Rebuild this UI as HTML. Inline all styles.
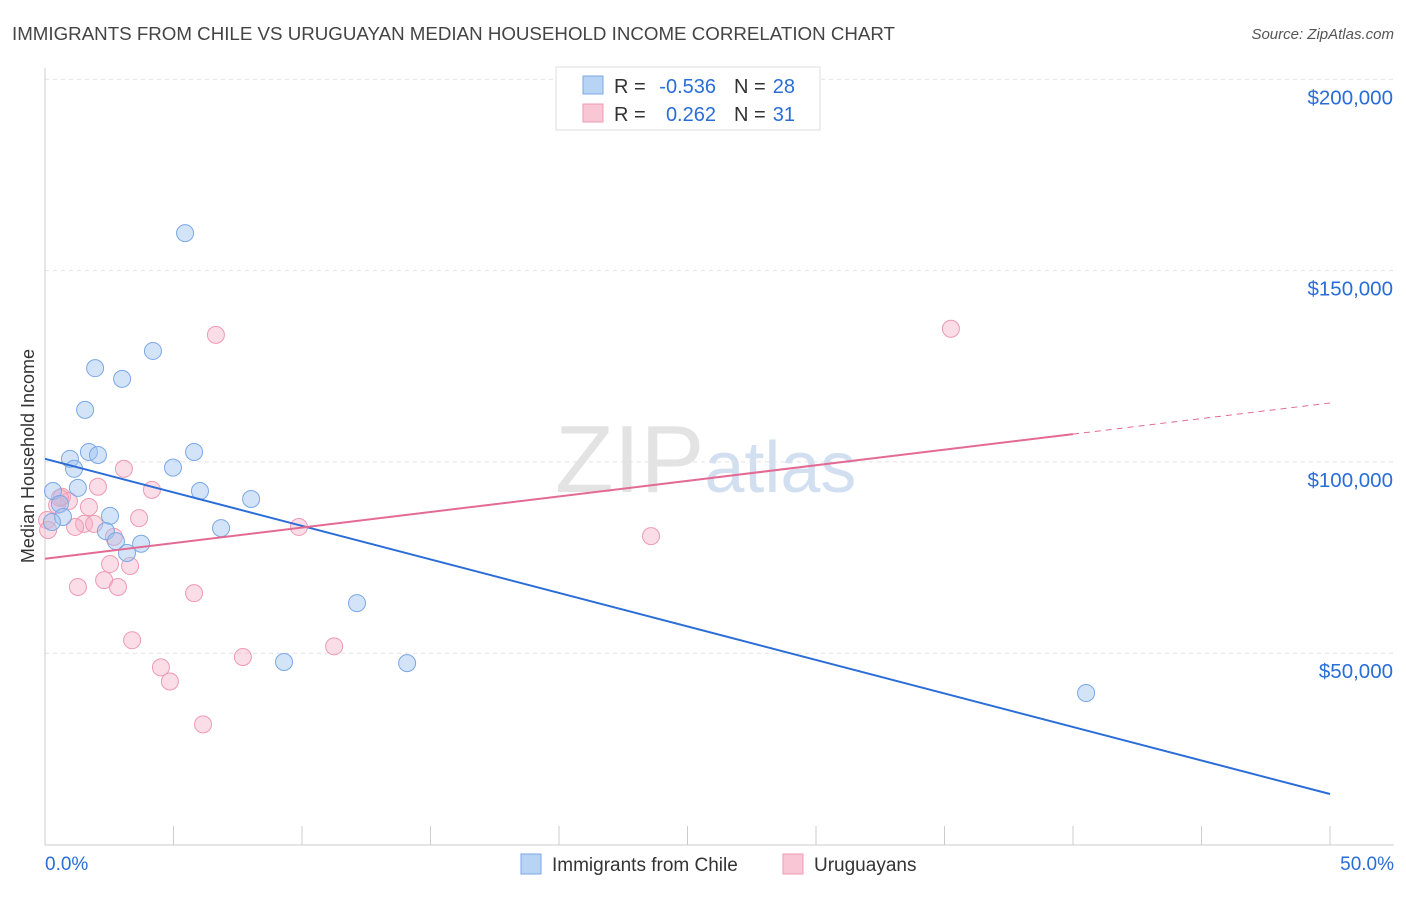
<!DOCTYPE html>
<html><head><meta charset="utf-8"><style>
body{margin:0;background:#fff;font-family:"Liberation Sans",sans-serif;}
svg text{font-family:"Liberation Sans",sans-serif;}
</style></head><body>
<svg id="chart" width="1406" height="892" xmlns="http://www.w3.org/2000/svg">
<text x="12" y="40" font-size="18" fill="#444" textLength="883" lengthAdjust="spacingAndGlyphs">IMMIGRANTS FROM CHILE VS URUGUAYAN MEDIAN HOUSEHOLD INCOME CORRELATION CHART</text>
<text x="1394" y="39" font-size="15" fill="#555" text-anchor="end" font-style="italic">Source: ZipAtlas.com</text>
<text x="555" y="492" font-size="96" fill="#ddd" font-family="Liberation Serif" opacity="0.8">ZIP<tspan fill="#c8d8ee" font-family="Liberation Sans" font-size="72">atlas</tspan></text>
<text transform="translate(34,456) rotate(-90)" text-anchor="middle" font-size="18" fill="#333">Median Household Income</text>
<g id="grid"></g><g id="axes"></g><g id="marks"></g>
<g>
<rect x="556" y="67" width="264" height="63" fill="#fff" stroke="#ddd"/>
<rect x="583" y="76" width="20" height="18" fill="#b8d4f5" stroke="#7aa8e6"/>
<rect x="583" y="104" width="20" height="18" fill="#f9c6d6" stroke="#ee9ab4"/>
<text x="614" y="93" font-size="20" fill="#333">R =</text>
<text x="716" y="93" font-size="20" fill="#2a6dd6" text-anchor="end">-0.536</text>
<text x="734" y="93" font-size="20" fill="#333">N =</text>
<text x="795" y="93" font-size="20" fill="#2a6dd6" text-anchor="end">28</text>
<text x="614" y="121" font-size="20" fill="#333">R =</text>
<text x="716" y="121" font-size="20" fill="#2a6dd6" text-anchor="end">0.262</text>
<text x="734" y="121" font-size="20" fill="#333">N =</text>
<text x="795" y="121" font-size="20" fill="#2a6dd6" text-anchor="end">31</text>
</g>
<g>
<rect x="521" y="854" width="20" height="20" fill="#b8d4f5" stroke="#7aa8e6"/>
<text x="552" y="871" font-size="19" fill="#333">Immigrants from Chile</text>
<rect x="783" y="854" width="20" height="20" fill="#f9c6d6" stroke="#ee9ab4"/>
<text x="814" y="871" font-size="19" fill="#333">Uruguayans</text>
</g>
</svg>
<script>
const yTicks=[50000,100000,150000,200000];
const yTickLabels=["$50,000","$100,000","$150,000","$200,000"];
const xTickLabels=["0.0%","50.0%"];
const chileX=[5.45,4.20,1.95,3.00,1.56,1.71,2.06,0.97,1.13,4.98,5.80,0.31,1.28,6.03,8.02,0.58,0.70,2.53,0.27,2.37,6.85,2.76,3.74,3.19,12.14,9.30,14.09,40.51];
const chileY=[159.8,129.0,124.5,121.7,113.6,102.6,101.8,100.8,98.2,98.5,102.6,92.4,93.2,92.4,90.3,89.0,85.6,85.9,84.3,81.9,82.7,79.3,78.6,76.2,63.1,47.7,47.4,39.6];
const uruX=[6.65,35.25,3.07,2.06,4.16,0.66,0.93,1.71,0.47,0.08,3.66,1.52,1.17,1.91,9.88,23.58,2.68,2.53,3.31,2.30,1.28,2.84,5.80,3.39,7.70,11.25,4.51,4.86,6.15,0.12,0.58];
const uruY=[133.2,134.8,98.2,93.5,92.7,90.9,89.8,88.2,88.7,84.8,85.3,83.8,83.0,83.8,83.0,80.6,80.4,73.3,72.8,69.1,67.3,67.3,65.7,53.4,49.0,51.8,46.3,42.6,31.4,82.2,90.6];
const chileTrend=[100.8,13.2];
const uruTrend=[74.7,115.4];
const NS="http://www.w3.org/2000/svg";
const X=p=>45+p/50*1285;
const Y=k=>844.5-k*1000/50000*191.3;
function mk(t,a,parent){const e=document.createElementNS(NS,t);for(const k in a)e.setAttribute(k,a[k]);document.getElementById(parent).appendChild(e);return e;}
yTicks.forEach((v,i)=>{
 const g=mk('line',{x1:45,x2:1394,y1:Y(v/1000),y2:Y(v/1000),stroke:'#e2e2e2','stroke-dasharray':'4,4'},'grid');
 
 
 const t=mk('text',{x:1393,y:Y(v/1000)+25,'text-anchor':'end','font-size':20.5,fill:'#2a6dd6'},'axes');
 t.textContent=yTickLabels[i];
 
 
});
const ax=mk('line',{x1:45,x2:1394,y1:845,y2:845,stroke:'#ccc'},'axes');


const ay=mk('line',{x1:45,x2:45,y1:68,y2:845,stroke:'#ccc'},'axes');


for(let i=0;i<=10;i++){const tk=mk('line',{x1:X(i*5),x2:X(i*5),y1:826,y2:845,stroke:'#ccc'},'axes');
 
 }
[[0,'start',45],[1,'end',1394]].forEach(([i,a,x])=>{const t=mk('text',{x:x,y:870,'text-anchor':a,'font-size':19,fill:'#2a6dd6'},'axes');t.textContent=xTickLabels[i];
 
 });
uruX.forEach((x,i)=>{const c=mk('circle',{cx:X(x),cy:Y(uruY[i]),r:8.5,fill:'rgba(246,170,196,0.4)',stroke:'#ee9ab4','stroke-width':1},'marks');
 
 });
chileX.forEach((x,i)=>{const c=mk('circle',{cx:X(x),cy:Y(chileY[i]),r:8.5,fill:'rgba(160,196,240,0.45)',stroke:'#7aa8e6','stroke-width':1},'marks');
 
 });
const bl=mk('line',{x1:X(0),y1:Y(chileTrend[0]),x2:X(50),y2:Y(chileTrend[1]),stroke:'#2a6dd6','stroke-width':2},'marks');


const py=x=>uruTrend[0]+(uruTrend[1]-uruTrend[0])*x/50;
const pl=mk('line',{x1:X(0),y1:Y(py(0)),x2:X(40),y2:Y(py(40)),stroke:'#e36b93','stroke-width':2},'marks');


const pd=mk('line',{x1:X(40),y1:Y(py(40)),x2:X(50),y2:Y(py(50)),stroke:'#e36b93','stroke-width':1,'stroke-dasharray':'6,5'},'marks');


</script>
</body></html>
